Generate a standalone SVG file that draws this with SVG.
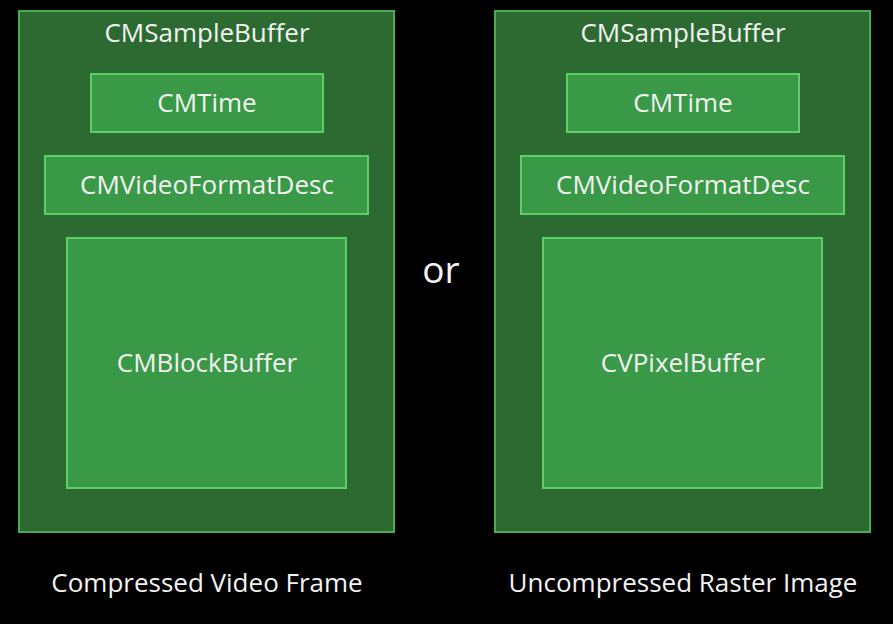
<svg xmlns="http://www.w3.org/2000/svg" width="893" height="624" viewBox="0 0 893 624">
<style>
.outer{fill:#2c6a31;stroke:#47ad4f;stroke-width:2}
.inner{fill:#3a9947;stroke:#5ccf67;stroke-width:2}
text{font-family:"Open Sans","Liberation Sans",sans-serif;fill:#f2f2f2;text-anchor:middle}
.t{font-size:26px}
.cap{font-size:26px}
</style>
<rect width="893" height="624" fill="#000"/>
<g id="left-sample">
<rect class="outer" x="19" y="11" width="375" height="521"/>
<text class="t" x="207" y="42">CMSampleBuffer</text>
</g>
<g id="left-time">
<rect class="inner" x="91" y="74" width="232" height="58"/>
<text class="t" x="207" y="112">CMTime</text>
</g>
<g id="left-format">
<rect class="inner" x="45" y="156" width="323" height="58"/>
<text class="t" x="207" y="194">CMVideoFormatDesc</text>
</g>
<g id="left-block">
<rect class="inner" x="67" y="238" width="279" height="250"/>
<text class="t" x="207" y="372">CMBlockBuffer</text>
</g>
<g id="right-sample">
<rect class="outer" x="495" y="11" width="375" height="521"/>
<text class="t" x="683" y="42">CMSampleBuffer</text>
</g>
<g id="right-time">
<rect class="inner" x="567" y="74" width="232" height="58"/>
<text class="t" x="683" y="112">CMTime</text>
</g>
<g id="right-format">
<rect class="inner" x="521" y="156" width="323" height="58"/>
<text class="t" x="683" y="194">CMVideoFormatDesc</text>
</g>
<g id="right-pixel">
<rect class="inner" x="543" y="238" width="279" height="250"/>
<text class="t" x="683" y="372">CVPixelBuffer</text>
</g>
<g id="labels">
<text x="441" y="283" style="font-size:37px">or</text>
<text class="cap" x="207" y="592">Compressed Video Frame</text>
<text class="cap" x="683" y="592">Uncompressed Raster Image</text>
</g>
<g id="connectors"></g>
</svg>
